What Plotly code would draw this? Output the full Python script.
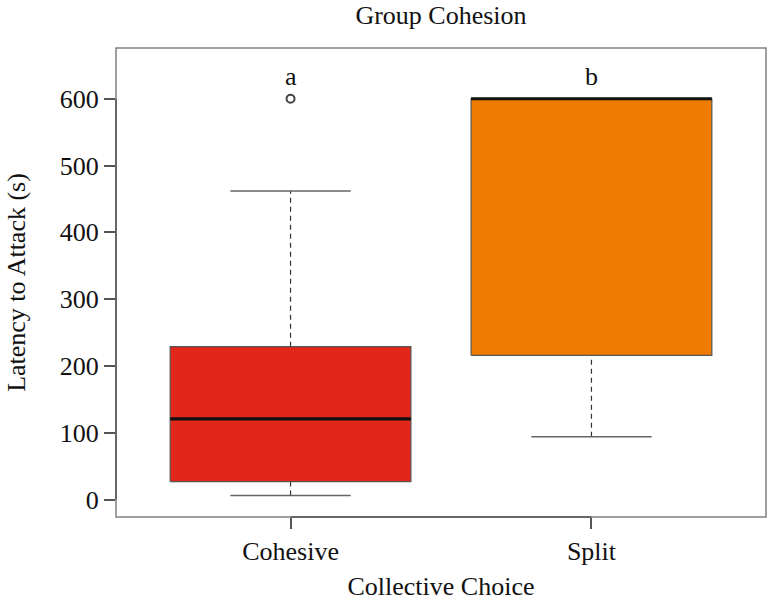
import plotly.graph_objects as go

categories = ["Cohesive", "Split"]
positions = [1, 2]
lower_whisker = [6, 94]
q1 = [27, 216]
median = [121, 600]
q3 = [229, 600]
upper_whisker = [462, 600]
outliers = [[600], []]
fill_colors = ["#E3261A", "#EF7C00"]
letters = ["a", "b"]
letter_y = 634
y_ticks = [0, 100, 200, 300, 400, 500, 600]

FONT = "Liberation Serif"
FS = 26
half_box = 0.4
half_cap = 0.2

fig = go.Figure()
for i, p in enumerate(positions):
    # whiskers (dashed)
    fig.add_trace(go.Scatter(x=[p, p, None, p, p],
                             y=[lower_whisker[i], q1[i], None, q3[i], upper_whisker[i]],
                             mode="lines", line=dict(color="#333333", width=1.2, dash="5px,4px"),
                             hoverinfo="skip", showlegend=False))
    # caps
    fig.add_trace(go.Scatter(x=[p - half_cap, p + half_cap, None, p - half_cap, p + half_cap],
                             y=[lower_whisker[i], lower_whisker[i], None, upper_whisker[i], upper_whisker[i]],
                             mode="lines", line=dict(color="#666666", width=1.5),
                             hoverinfo="skip", showlegend=False))
    # box
    fig.add_trace(go.Scatter(x=[p - half_box, p + half_box, p + half_box, p - half_box, p - half_box],
                             y=[q1[i], q1[i], q3[i], q3[i], q1[i]],
                             mode="lines", fill="toself", fillcolor=fill_colors[i],
                             line=dict(color="#555555", width=1.2),
                             hoverinfo="skip", showlegend=False))
    # median
    fig.add_trace(go.Scatter(x=[p - half_box, p + half_box], y=[median[i], median[i]],
                             mode="lines", line=dict(color="#111111", width=3.2),
                             hoverinfo="skip", showlegend=False))
    if outliers[i]:
        fig.add_trace(go.Scatter(x=[p] * len(outliers[i]), y=outliers[i], mode="markers",
                                 marker=dict(symbol="circle-open", size=8, color="#444444",
                                             line=dict(width=2, color="#444444")),
                                 hoverinfo="skip", showlegend=False))
    fig.add_annotation(x=p, y=letter_y, text=letters[i], showarrow=False,
                       font=dict(family=FONT, size=FS, color="#111111"))

# plot frame
fig.add_shape(type="rect", xref="paper", yref="paper", x0=0, x1=1, y0=0, y1=1,
              line=dict(color="#808080", width=1.5), layer="above")
# R-style axis lines
fig.add_shape(type="line", xref="paper", yref="y", x0=0, x1=0, y0=y_ticks[0], y1=y_ticks[-1],
              line=dict(color="#555555", width=1.5), layer="above")
fig.add_shape(type="line", xref="x", yref="paper", x0=positions[0], x1=positions[-1], y0=0, y1=0,
              line=dict(color="#555555", width=1.5), layer="above")

fig.update_layout(
    width=774, height=604,
    margin=dict(l=116, r=8, t=48, b=87),
    paper_bgcolor="white", plot_bgcolor="white",
    font=dict(family=FONT, size=FS, color="#111111"),
    title=dict(text="Group Cohesion", x=441 / 774, xanchor="center", y=1 - 15 / 604, yanchor="middle",
               font=dict(family=FONT, size=FS, color="#111111")),
    xaxis=dict(range=[0.42, 2.58], tickvals=positions, ticktext=categories,
               showgrid=False, zeroline=False, showline=False,
               ticks="outside", ticklen=11, tickwidth=1.5, tickcolor="#555555",
               tickfont=dict(family=FONT, size=FS),
               title=dict(text="Collective Choice", standoff=11, font=dict(family=FONT, size=FS))),
    yaxis=dict(range=[-26, 676], tickvals=y_ticks, ticktext=[str(v) for v in y_ticks],
               showgrid=False, zeroline=False, showline=False,
               ticks="outside", ticklen=11, tickwidth=1.5, tickcolor="#555555",
               tickfont=dict(family=FONT, size=FS),
               title=dict(text="Latency to Attack (s)", standoff=26, font=dict(family=FONT, size=FS))),
)

fig.write_html("out.html", config={"displayModeBar": False},
               post_script="document.body.style.margin='0';")
